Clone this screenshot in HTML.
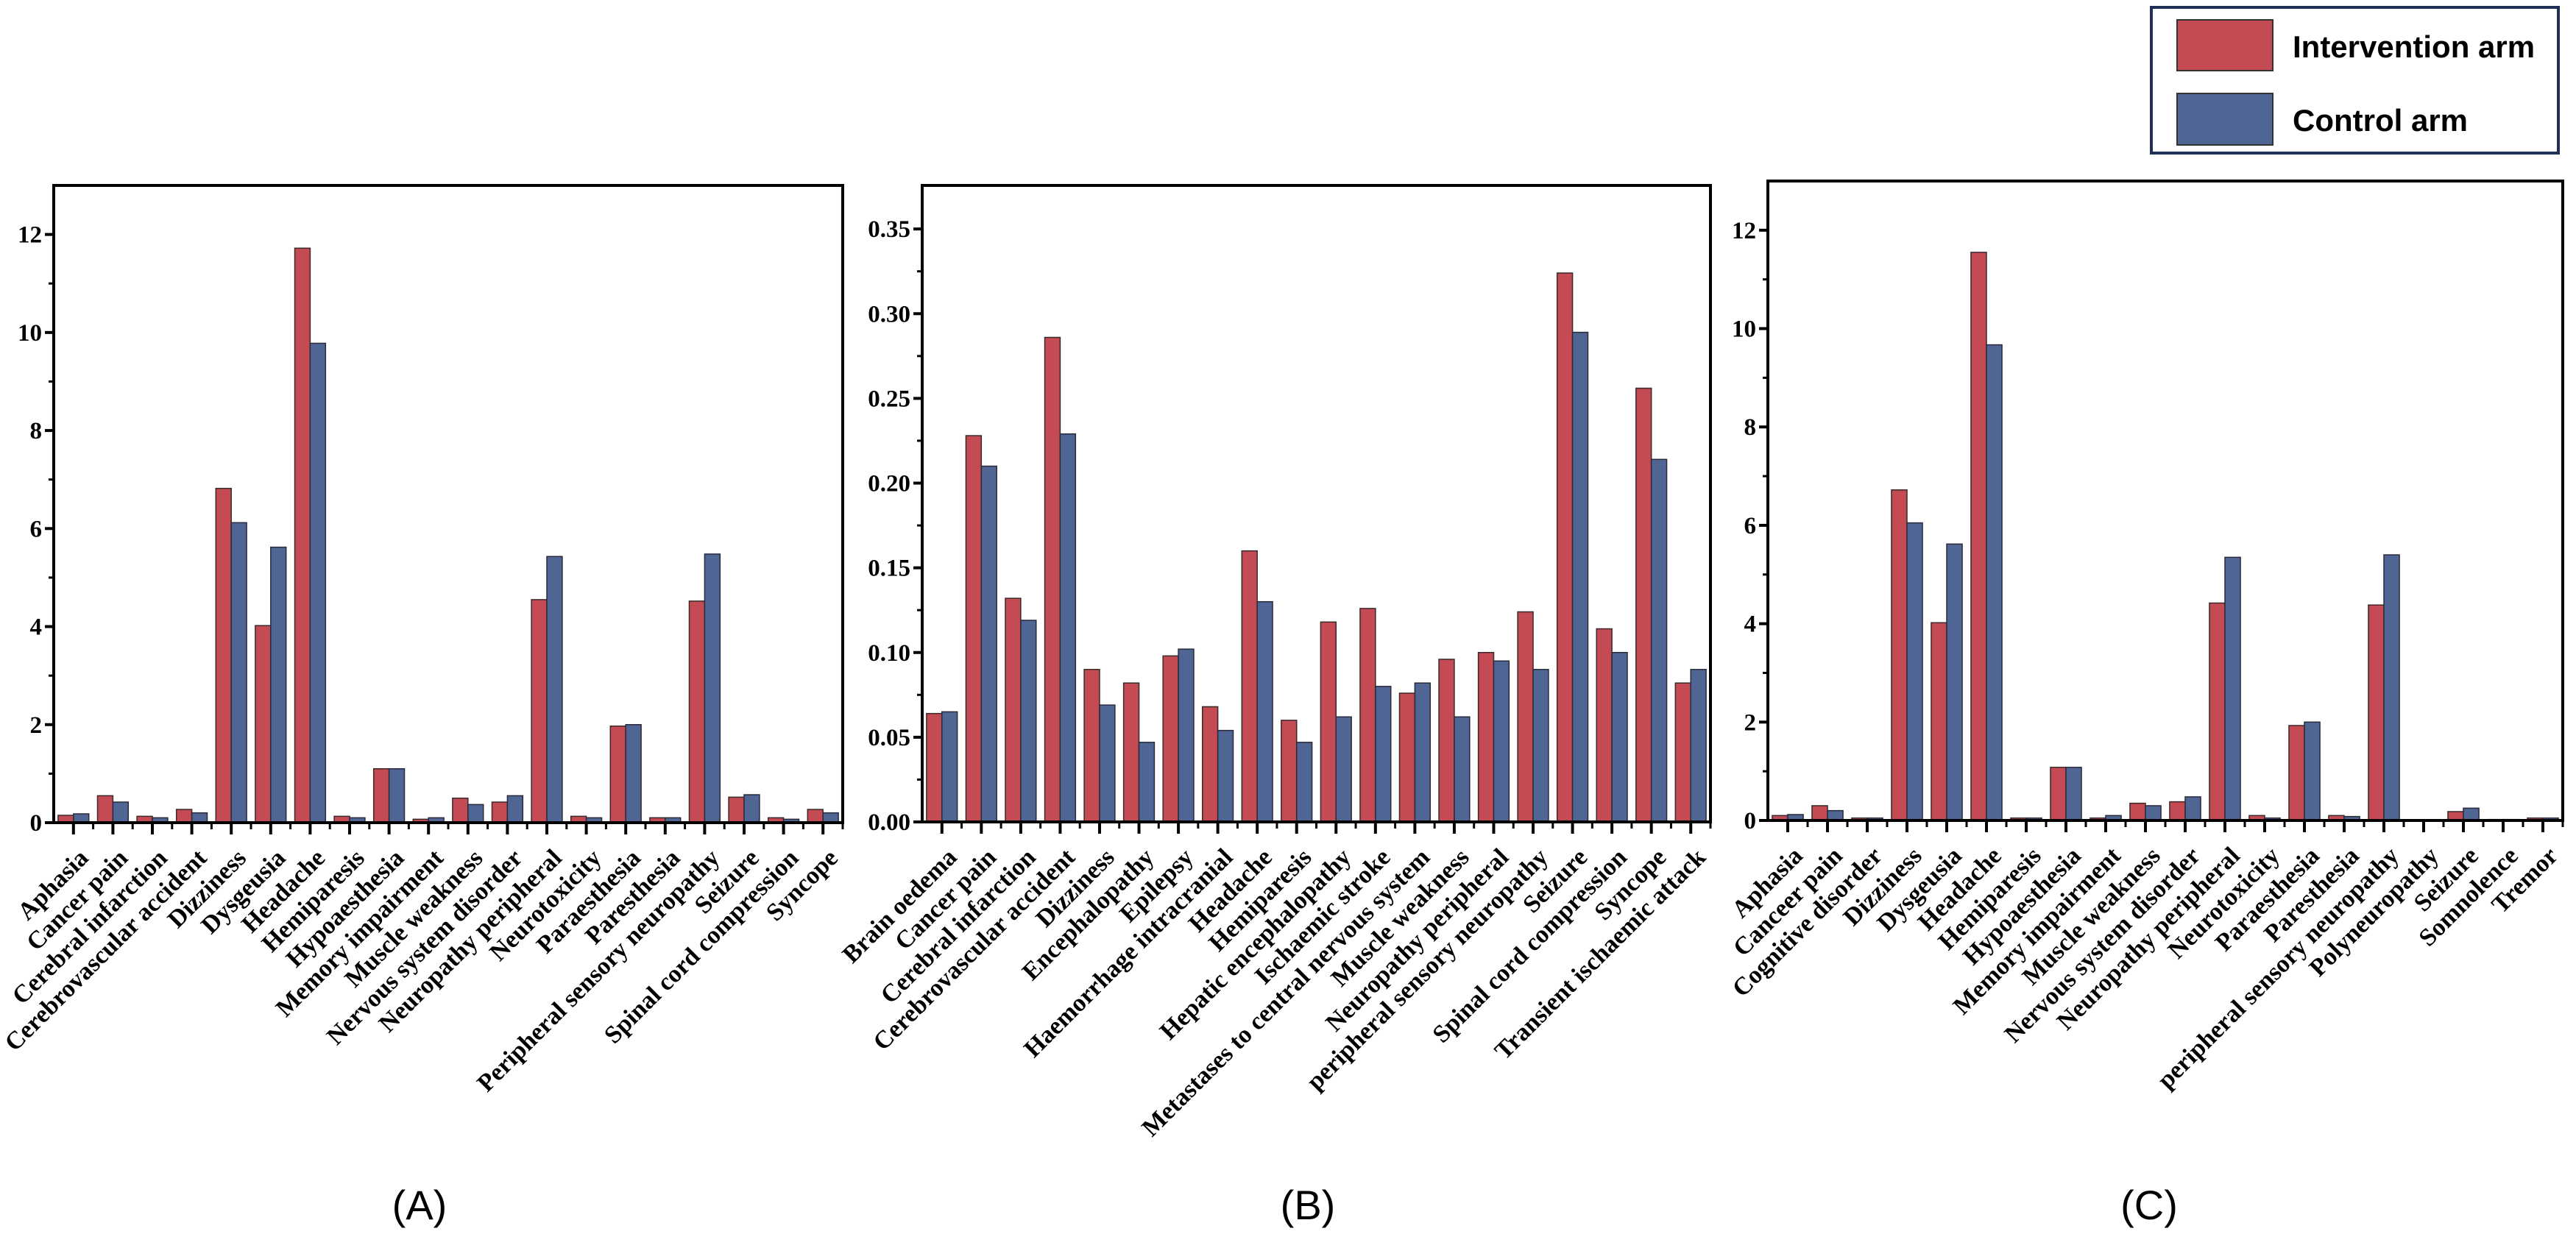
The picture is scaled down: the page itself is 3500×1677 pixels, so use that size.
<!DOCTYPE html>
<html><head><meta charset="utf-8"><style>
html,body{margin:0;padding:0;background:#fff;}
svg{display:block;}
</style></head><body>
<svg id="fig" width="3500" height="1677" viewBox="0 0 3500 1677" xmlns="http://www.w3.org/2000/svg">
<rect x="0" y="0" width="3500" height="1677" fill="#fff"/>
<g>
<rect x="2923" y="10" width="553" height="198" fill="#fff" stroke="#1f2f55" stroke-width="4"/>
<rect x="2958" y="27" width="130" height="69" fill="#c44a53" stroke="#333" stroke-width="2"/>
<rect x="2958" y="127" width="130" height="70" fill="#4f6594" stroke="#333" stroke-width="2"/>
<text x="3115" y="78" font-family="Liberation Sans, sans-serif" font-weight="bold" font-size="42">Intervention arm</text>
<text x="3115" y="178" font-family="Liberation Sans, sans-serif" font-weight="bold" font-size="42">Control arm</text>
</g>
<text x="570" y="1657" text-anchor="middle" font-family="Liberation Sans, sans-serif" font-size="56">(A)</text>
<text x="1777" y="1657" text-anchor="middle" font-family="Liberation Sans, sans-serif" font-size="56">(B)</text>
<text x="2920" y="1657" text-anchor="middle" font-family="Liberation Sans, sans-serif" font-size="56">(C)</text>
</svg>
<script>
const catsA = ["Aphasia","Cancer pain","Cerebral infarction","Cerebrovascular accident","Dizziness","Dysgeusia","Headache","Hemiparesis","Hypoaesthesia","Memory impairment","Muscle weakness","Nervous system disorder","Neuropathy peripheral","Neurotoxicity","Paraesthesia","Paresthesia","Peripheral sensory neuropathy","Seizure","Spinal cord compression","Syncope"];
const interventionA = [0.15,0.55,0.13,0.27,6.82,4.02,11.72,0.13,1.1,0.07,0.5,0.42,4.55,0.13,1.97,0.1,4.52,0.52,0.1,0.27];
const controlA = [0.18,0.42,0.1,0.2,6.12,5.62,9.78,0.1,1.1,0.1,0.37,0.55,5.43,0.1,2.0,0.1,5.48,0.57,0.07,0.2];
const ticksA = ["0","2","4","6","8","10","12"];

const catsB = ["Brain oedema","Cancer pain","Cerebral infarction","Cerebrovascular accident","Dizziness","Encephalopathy","Epilepsy","Haemorrhage intracranial","Headache","Hemiparesis","Hepatic encephalopathy","Ischaemic stroke","Metastases to central nervous system","Muscle weakness","Neuropathy peripheral","peripheral sensory neuropathy","Seizure","Spinal cord compression","Syncope","Transient ischaemic attack"];
const interventionB = [0.064,0.228,0.132,0.286,0.09,0.082,0.098,0.068,0.16,0.06,0.118,0.126,0.076,0.096,0.1,0.124,0.324,0.114,0.256,0.082];
const controlB = [0.065,0.21,0.119,0.229,0.069,0.047,0.102,0.054,0.13,0.047,0.062,0.08,0.082,0.062,0.095,0.09,0.289,0.1,0.214,0.09];
const ticksB = ["0.00","0.05","0.10","0.15","0.20","0.25","0.30","0.35"];

const catsC = ["Aphasia","Canceer pain","Cognitive disorder","Dizziness","Dysgeusia","Headache","Hemiparesis","Hypoaesthesia","Memory impairment","Muscle weakness","Nervous system disorder","Neuropathy peripheral","Neurotoxicity","Paraesthesia","Paresthesia","peripheral sensory neuropathy","Polyneuropathy","Seizure","Somnolence","Tremor"];
const interventionC = [0.1,0.3,0.05,6.72,4.02,11.55,0.05,1.08,0.05,0.35,0.38,4.42,0.1,1.93,0.1,4.38,0,0.18,0.02,0.05];
const controlC = [0.12,0.2,0.05,6.05,5.62,9.67,0.05,1.08,0.1,0.3,0.48,5.35,0.05,2.0,0.08,5.4,0,0.25,0.02,0.05];
const ticksC = ["0","2","4","6","8","10","12"];

const NS = "http://www.w3.org/2000/svg";
const svg = document.getElementById('fig');
function mk(tag, attrs, parent){
  const e = document.createElementNS(NS, tag);
  for (const k in attrs) e.setAttribute(k, attrs[k]);
  parent.appendChild(e);
  return e;
}
function drawPanel(id, box, yMax, cats, s1, s2, ticks){
  const g = mk('g', {}, svg);
  
  
  const x0 = box.x0, x1 = box.x1, yTop = box.yTop, yBase = box.yBase;
  const yScale = v => yBase - (v / yMax) * (yBase - yTop);
  const band = (x1 - x0) / cats.length;
  const xScale = i => x0 + band * (i + 0.5);
  const bw = band * 0.39;
  for (let i = 0; i < cats.length; i++) {
    const cx = xScale(i);
    const r = mk('rect', {x: cx - bw, y: yScale(s1[i]), width: bw, height: yBase - yScale(s1[i]), fill: '#c44a53', stroke: '#3a2a2a', 'stroke-width': 1.5}, g);
    
    
    const b = mk('rect', {x: cx, y: yScale(s2[i]), width: bw, height: yBase - yScale(s2[i]), fill: '#4f6594', stroke: '#2a2a3a', 'stroke-width': 1.5}, g);
    
    
  }
  const f = mk('rect', {x: x0, y: yTop, width: x1 - x0, height: yBase - yTop, fill: 'none', stroke: '#000', 'stroke-width': 4}, g);
  
  
  for (let t = 0; t < ticks.length; t++) {
    const v = parseFloat(ticks[t]);
    const y = yScale(v);
    mk('line', {x1: x0 - 12, x2: x0, y1: y, y2: y, stroke: '#000', 'stroke-width': 4}, g);
    const lab = mk('text', {x: x0 - 16, y: y + 11, 'text-anchor': 'end', 'font-family': 'Liberation Serif, serif', 'font-weight': 'bold', 'font-size': 33}, g);
    lab.textContent = ticks[t];
    
    
    if (t < ticks.length - 1) {
      const vm = (v + parseFloat(ticks[t + 1])) / 2;
      const ym = yScale(vm);
      mk('line', {x1: x0 - 7, x2: x0, y1: ym, y2: ym, stroke: '#000', 'stroke-width': 3}, g);
    }
  }
  for (let i = 0; i < cats.length; i++) {
    const cx = xScale(i);
    mk('line', {x1: cx, x2: cx, y1: yBase, y2: yBase + 16, stroke: '#000', 'stroke-width': 4}, g);
    mk('line', {x1: x0 + band * (i + 1), x2: x0 + band * (i + 1), y1: yBase, y2: yBase + 9, stroke: '#000', 'stroke-width': 3}, g);
    const ax = cx + 22, ay = yBase + 50;
    const lab = mk('text', {x: ax, y: ay, 'text-anchor': 'end', transform: 'rotate(-45 ' + ax + ' ' + ay + ')', 'font-family': 'Liberation Serif, serif', 'font-weight': 'bold', 'font-size': 34}, g);
    lab.textContent = cats[i];
    
    
  }
}
drawPanel('a', {x0: 73, x1: 1145, yTop: 252, yBase: 1118}, 13, catsA, interventionA, controlA, ticksA);
drawPanel('b', {x0: 1253, x1: 2324, yTop: 252, yBase: 1117}, 0.3757, catsB, interventionB, controlB, ticksB);
drawPanel('c', {x0: 2402, x1: 3482, yTop: 246, yBase: 1115}, 13, catsC, interventionC, controlC, ticksC);
</script>
</body></html>
